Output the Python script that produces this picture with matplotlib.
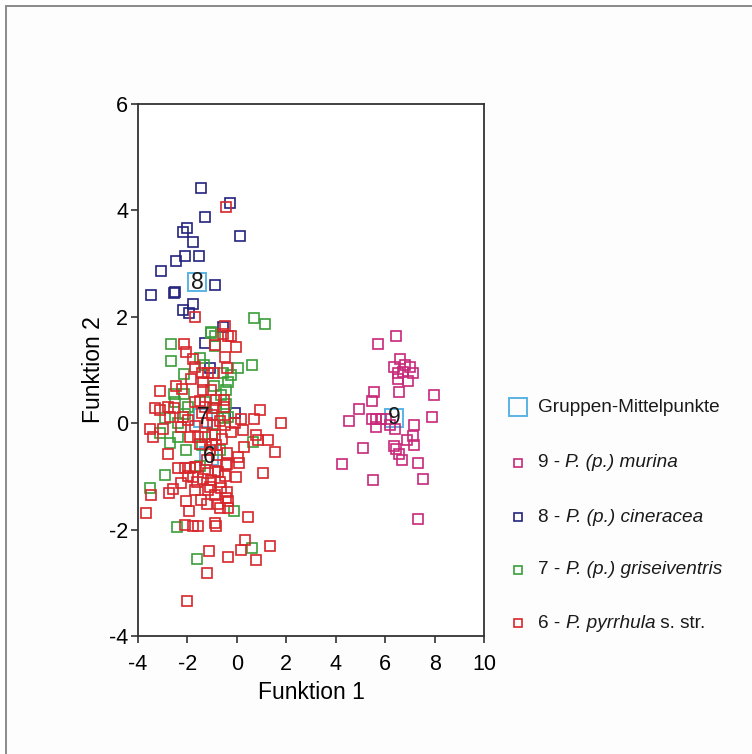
import matplotlib
matplotlib.use("Agg")
import matplotlib.pyplot as plt
from matplotlib.lines import Line2D
from matplotlib.patches import Rectangle
from matplotlib.offsetbox import TextArea, HPacker, AnnotationBbox

plt.rcParams['font.family'] = ['Liberation Sans', 'DejaVu Sans']
plt.rcParams['axes.unicode_minus'] = False

# group 9 - P. (p.) murina
x9 = [6.43, 5.72, 6.59, 6.36, 6.82, 7.0, 7.11, 6.53, 6.73, 6.53, 6.93, 6.56, 5.55,
      7.96, 5.47, 4.94, 7.88, 4.53, 5.45, 5.65, 5.85, 6.05, 5.65, 6.19, 6.39, 7.16,
      7.11, 6.9, 7.17, 6.36, 6.43, 5.11, 6.57, 6.70, 7.31, 4.27, 5.49, 7.54, 7.31]
y9 = [1.64, 1.49, 1.21, 1.06, 1.09, 1.06, 0.94, 0.94, 0.97, 0.84, 0.79, 0.58, 0.58,
      0.53, 0.42, 0.27, 0.12, 0.05, 0.08, 0.08, 0.08, 0.08, -0.07, -0.03, -0.10, -0.03,
      -0.24, -0.32, -0.41, -0.43, -0.49, -0.47, -0.57, -0.70, -0.74, -0.77, -1.07, -1.05, -1.80]

# group 8 - P. (p.) cineracea
x8 = [-1.44, -0.26, -1.30, -2.02, -2.18, 0.14, -1.77, -2.09, -1.54, -2.47, -3.06, -0.90,
      -3.46, -2.55, -2.50, -1.76, -2.18, -1.94, -0.56, -1.30, -1.10, -0.09]
y8 = [4.43, 4.14, 3.88, 3.66, 3.60, 3.52, 3.41, 3.15, 3.15, 3.05, 2.86, 2.60,
      2.41, 2.45, 2.47, 2.24, 2.12, 2.07, 1.80, 1.50, 1.03, 0.19]

# group 7 - P. (p.) griseiventris
x7 = [0.70, 1.15, -1.06, -1.03, -0.87, -2.65, -0.87, -2.65, -1.50, 0.62, -2.15, -1.33,
      -0.56, 0.05, -0.22, -0.36, -0.92, -0.43, -2.54, -2.14, -0.63, -0.43, -0.83, -2.51,
      -1.30, -1.98, -2.92, -2.09, -0.36, -2.38, -3.12, -2.38, -2.72, 0.66, -1.41, -2.04,
      -2.89, -3.53, -0.11, -2.41, 0.62, -1.61, -1.0, -0.7, -1.5, -0.5]
y7 = [1.97, 1.86, 1.70, 1.72, 1.63, 1.49, 1.45, 1.16, 1.22, 1.09, 0.92, 1.09,
      0.94, 1.04, 0.91, 0.78, 0.69, 0.62, 0.55, 0.55, 0.53, 0.37, 0.28, 0.40,
      0.40, 0.30, 0.09, 0.17, 0.12, 0.00, -0.19, -0.25, -0.38, -0.35, -0.41, -0.50,
      -0.97, -1.22, -1.65, -1.95, -2.35, -2.56, -0.2, -0.5, -0.8, 0.1]

# group 6 - P. pyrrhula s. str.
x6 = [-0.42, -1.70, -0.49, -0.22, -0.56, -0.36, -0.90, -0.02, -2.14, -2.04, -1.77, -0.49,
      -1.70, -0.40, -1.17, -1.84, -1.41, -0.92, -1.37, -1.37, -1.03, -2.45, -3.12, -2.22,
      -3.30, -2.79, -3.12, -2.54, -1.70, -1.50, -0.83, -0.52, -0.96, 0.93, 0.70, 1.78,
      0.16, -0.09, -2.69, -2.18, -1.98, -3.53, -2.99, -3.39, -2.27, -1.70, -0.96, -0.49,
      -0.22, 0.25, 0.79, 1.26, 0.86, 1.53, 1.06, 0.29, 0.05, -0.38, -2.79, -1.91,
      -1.57, -1.30, -0.90, -0.83, -1.10, -2.38, -2.11, -1.70, -1.17, -0.76, -0.42, -1.98,
      -1.91, -1.64, -0.38, 0.08, -1.77, -1.37, -1.06, -0.49, -0.02, -2.25, -2.58, -2.74,
      -3.46, -1.70, -1.17, -0.63, -0.38, -0.87, -0.42, -2.04, -1.46, -1.19, -0.76, -0.36,
      -0.69, -0.36, -1.95, -3.66, 0.45, -2.09, -1.77, -1.57, -0.90, -0.83, 0.32, 0.16,
      -1.13, -0.36, 1.33, 0.79, -1.22, -2.02, -1.3, -1.2, -1.0, -0.8, -1.5, -1.2,
      -0.9, -0.6, -1.4, -1.0, -0.7, -1.6, -1.1, -0.7, -0.5]
y6 = [4.07, 2.00, 1.83, 1.64, 1.68, 1.64, 1.47, 1.43, 1.49, 1.34, 1.20, 1.24,
      1.06, 1.04, 0.94, 0.83, 0.94, 0.94, 0.78, 0.62, 0.62, 0.69, 0.61, 0.64,
      0.28, 0.30, 0.24, 0.28, 0.39, 0.41, 0.44, 0.44, 0.28, 0.24, 0.08, 0.00,
      0.08, 0.00, 0.12, 0.12, 0.06, -0.10, -0.10, -0.26, -0.08, -0.06, -0.03, -0.03,
      -0.16, -0.13, -0.22, -0.32, -0.32, -0.55, -0.94, -0.44, -0.63, -0.56, -0.57, -0.26,
      -0.26, -0.25, -0.22, -0.41, -0.50, -0.85, -0.85, -0.82, -0.94, -0.91, -0.79, -1.00,
      -0.85, -0.82, -0.77, -0.75, -1.02, -1.04, -1.07, -1.00, -1.02, -1.13, -1.24, -1.32,
      -1.35, -1.26, -1.26, -1.22, -1.29, -1.35, -1.41, -1.47, -1.45, -1.52, -1.51, -1.47,
      -1.59, -1.60, -1.65, -1.68, -1.77, -1.91, -1.94, -1.94, -1.87, -1.94, -2.20, -2.38,
      -2.41, -2.52, -2.31, -2.57, -2.82, -3.34, 0.3, 0.0, -0.4, -0.6, -0.4, -0.7,
      -0.9, -0.3, 0.2, 0.15, 0.05, -1.1, -1.2, -1.1, 0.3]

# group centroids
cent_labels = ["9", "8", "7", "6"]
cent_x = [6.36, -1.61, -1.37, -1.13]
cent_y = [0.10, 2.65, 0.10, -0.62]

# legend rows: (plain, italic, plain)
legend_parts = [
    ("Gruppen-Mittelpunkte", "", ""),
    ("9 - ", "P. (p.) murina", ""),
    ("8 - ", "P. (p.) cineracea", ""),
    ("7 - ", "P. (p.) griseiventris", ""),
    ("6 - ", "P. pyrrhula", " s. str."),
]

c_cent = '#5ab4e5'
c9, c8, c7, c6 = '#c8287a', '#23237f', '#3a9e3a', '#d7262b'

fig = plt.figure(figsize=(7.52, 7.54), dpi=100)
fig.patches.append(Rectangle((6 / 752, -0.1), 1.2, 1.1 - 6 / 754,
                             transform=fig.transFigure, facecolor='#fdfdfd',
                             edgecolor='#8a8a8a', linewidth=1.4, zorder=-10))
ax = fig.add_axes([138 / 752, 1 - 636 / 754, 346 / 752, 532 / 754])
ax.set_facecolor('white')

sq = dict(marker='s', linestyle='none', markerfacecolor='none', markersize=6.5, markeredgewidth=1.2)
cen = dict(marker='s', linestyle='none', markerfacecolor='none', markersize=12.5,
           markeredgewidth=1.4, markeredgecolor=c_cent)
ax.plot(cent_x, cent_y, zorder=2, **cen)
ax.plot(x9, y9, markeredgecolor=c9, zorder=3, **sq)
ax.plot(x8, y8, markeredgecolor=c8, zorder=3, **sq)
ax.plot(x7, y7, markeredgecolor=c7, zorder=3, **sq)
ax.plot(x6, y6, markeredgecolor=c6, zorder=3, **sq)
for lab, cx, cy in zip(cent_labels, cent_x, cent_y):
    ax.text(cx, cy, lab, ha='center', va='center', fontsize=16.5, color='#1a1a1a', zorder=5)

ax.set_xlim(-4, 10)
ax.set_ylim(-4, 6)
ax.set_xticks(range(-4, 11, 2))
ax.set_yticks(range(-4, 7, 2))
ax.tick_params(direction='out', length=5, width=1.2, labelsize=15.5, color='#333333')
ax.tick_params(axis='x', pad=8)
ax.tick_params(axis='y', pad=2)
for s in ax.spines.values():
    s.set_linewidth(1.3)
    s.set_color('#333333')
ax.set_xlabel("Funktion 1", fontsize=16.5, labelpad=4)
ax.set_ylabel("Funktion 2", fontsize=16.5, labelpad=3)

# legend, drawn row by row so that the species names can be italic
leg_colors = [None, c9, c8, c7, c6]
leg_y = [407, 463, 517, 570, 623]
for parts, col, py in zip(legend_parts, leg_colors, leg_y):
    yf = 1 - py / 754
    if col is None:
        fig.add_artist(Line2D([518 / 752], [yf], transform=fig.transFigure, **cen))
    else:
        fig.add_artist(Line2D([518 / 752], [yf], transform=fig.transFigure,
                              markeredgecolor=col, **{**sq, 'markersize': 6}))
    boxes = []
    for txt, style in zip(parts, ('normal', 'italic', 'normal')):
        if txt:
            boxes.append(TextArea(txt, textprops=dict(fontsize=13.7, style=style, color='#1a1a1a')))
    pack = HPacker(children=boxes, pad=0, sep=0, align='baseline')
    ab = AnnotationBbox(pack, (538 / 752, yf), xycoords='figure fraction',
                        box_alignment=(0, 0.5), frameon=False, pad=0)
    fig.add_artist(ab)

fig.savefig("out.png", dpi=100)
